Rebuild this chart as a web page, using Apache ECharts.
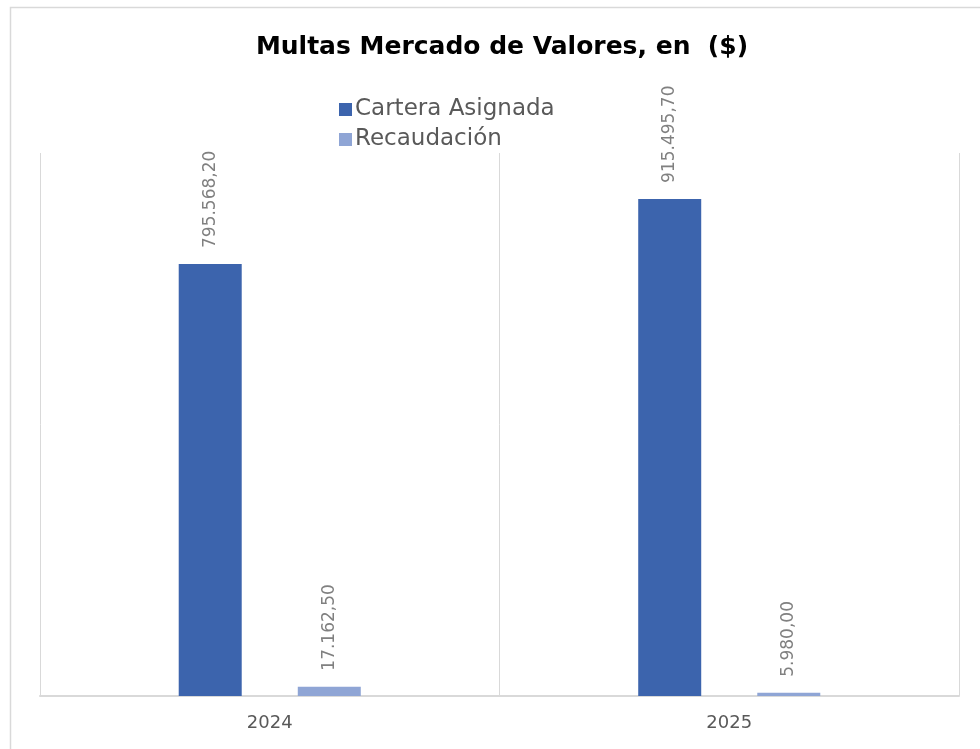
<!DOCTYPE html>
<html>
<head>
<meta charset="utf-8">
<script src="https://cdn.jsdelivr.net/npm/echarts@6/dist/echarts.min.js"></script>
<style>
  html, body { margin: 0; padding: 0; background: #fff; }
  #chart { width: 980px; height: 749px; }
</style>
</head>
<body>
<div id="chart"></div>
<script>
const years = ["2024", "2025"];
const carteraAsignada = [795568.20, 915495.70];
const recaudacion = [17162.50, 5980.00];

// 795.568,20 style
function fmt(v) {
  const [ent, dec] = v.toFixed(2).split(".");
  return ent.replace(/\B(?=(\d{3})+(?!\d))/g, ".") + "," + dec;
}

const font = "'DejaVu Sans', sans-serif";

const label = {
  show: true,
  position: "top",
  rotate: 90,
  align: "left",
  verticalAlign: "middle",
  distance: 16,
  color: "#808080",
  fontFamily: font,
  fontSize: 17,
  formatter: (p) => fmt(p.value),
};

const chart = echarts.init(document.getElementById("chart"));
chart.setOption({
  backgroundColor: "#fff",
  animation: false,
  graphic: [{
    type: "rect",
    shape: { x: 10.5, y: 7.5, width: 1200, height: 1200 },
    style: { fill: "none", stroke: "#d9d9d9", lineWidth: 1.5 },
    silent: true,
  }],
  title: {
    text: "Multas Mercado de Valores, en  ($)",
    left: 497,
    textAlign: "center",
    top: 30,
    textStyle: { fontFamily: font, fontWeight: "bold", fontSize: 25, color: "#000" },
  },
  legend: {
    orient: "vertical",
    left: 334,
    top: 93,
    itemWidth: 13,
    itemHeight: 13,
    itemGap: 7,
    icon: "rect",
    textStyle: { fontFamily: font, fontSize: 23, color: "#595959", padding: [0, 0, 0, -2] },
  },
  grid: { left: 40, right: 21, top: 153, bottom: 53 },
  xAxis: {
    type: "category",
    data: years,
    axisLine: { lineStyle: { color: "#d9d9d9", width: 2 } },
    axisTick: { show: false },
    axisLabel: { color: "#595959", fontFamily: font, fontSize: 18, margin: 18 },
    splitLine: { show: true, lineStyle: { color: "#d9d9d9", width: 1 } },
  },
  yAxis: {
    type: "value",
    min: 0,
    max: 1000000,
    show: false,
  },
  series: [
    {
      name: "Cartera Asignada",
      type: "bar",
      data: carteraAsignada,
      barWidth: 63,
      barGap: "89%",
      itemStyle: { color: "#3c64ad" },
      label,
    },
    {
      name: "Recaudación",
      type: "bar",
      data: recaudacion,
      barWidth: 63,
      itemStyle: { color: "#8fa5d5" },
      label,
    },
  ],
});
</script>
</body>
</html>
